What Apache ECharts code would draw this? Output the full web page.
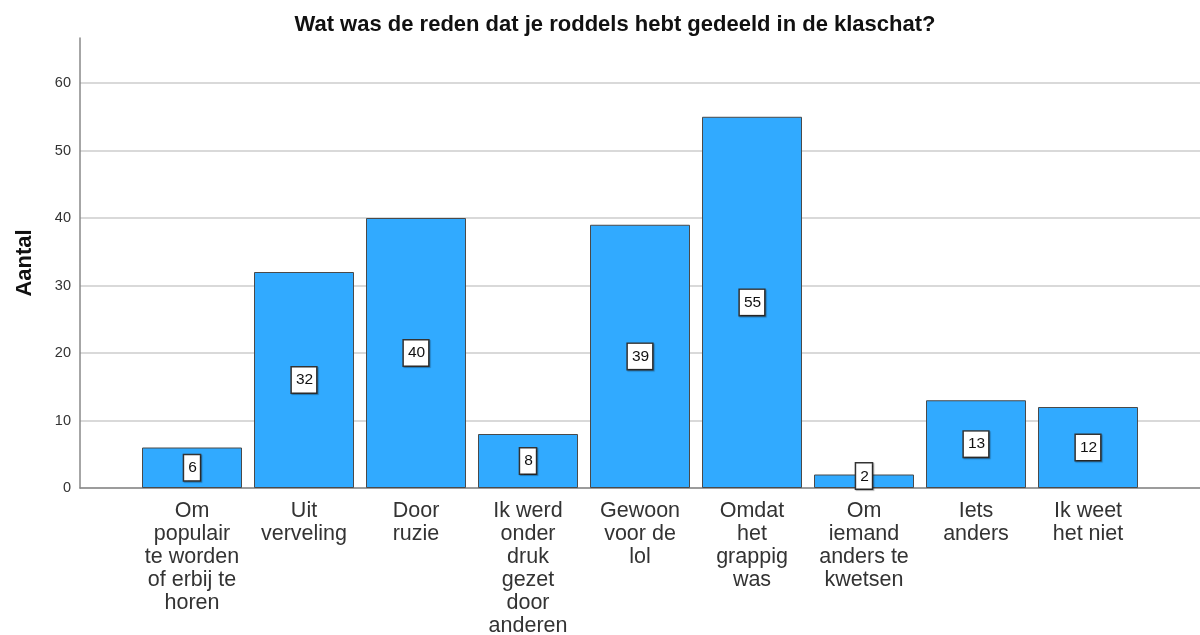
<!DOCTYPE html>
<html>
<head>
<meta charset="utf-8">
<script src="https://cdn.jsdelivr.net/npm/echarts@6/dist/echarts.min.js"></script>
<style>
  html, body { margin: 0; padding: 0; background: #fff; }
  #chart { width: 1200px; height: 635px; }
</style>
</head>
<body>
<div id="chart"></div>
<script>
// categories (line breaks as in the picture)
const categories = [
  'Om\npopulair\nte worden\nof erbij te\nhoren',
  'Uit\nverveling',
  'Door\nruzie',
  'Ik werd\nonder\ndruk\ngezet\ndoor\nanderen',
  'Gewoon\nvoor de\nlol',
  'Omdat\nhet\ngrappig\nwas',
  'Om\niemand\nanders te\nkwetsen',
  'Iets\nanders',
  'Ik weet\nhet niet'
]
const counts = [6, 32, 40, 8, 39, 55, 2, 13, 12]
const yTicks = [0, 10, 20, 30, 40, 50, 60]

const chart = echarts.init(document.getElementById('chart'))

const labelBox = {
  show: true,
  position: 'inside',
  color: '#111',
  fontSize: 15.5,
  fontFamily: 'Liberation Sans, Arial, sans-serif',
  backgroundColor: '#fff',
  borderColor: '#333',
  borderWidth: 1.5,
  padding: [5, 3, 4, 4],
  shadowColor: 'rgba(0,0,0,0.3)',
  shadowOffsetX: 1,
  shadowOffsetY: 1,
  shadowBlur: 1
}

// bars on a value x axis so there is half a band of space at each end
const barData = counts.map(function (v, i) {
  const item = { value: [i, v] }
  if (v < 4) {
    // small bar: the box sits on the top edge
    item.label = { position: 'top', distance: -14 }
  }
  return item
})

chart.setOption({
  animation: false,
  textStyle: { fontFamily: 'Liberation Sans, Arial, sans-serif' },
  title: {
    text: 'Wat was de reden dat je roddels hebt gedeeld in de klaschat?',
    left: 610,
    textAlign: 'center',
    top: 9,
    textStyle: { fontSize: 22, fontWeight: 'bold', color: '#111' }
  },
  grid: { left: 80, right: 0, top: 38, bottom: 147, outerBoundsMode: 'none', containLabel: false },
  xAxis: {
    type: 'value',
    min: -1,
    max: 9,
    interval: 1,
    axisLine: { show: true, onZero: false, lineStyle: { color: '#888', width: 1.5 } },
    axisTick: { show: false },
    splitLine: { show: false },
    axisLabel: {
      margin: 12,
      fontSize: 21.5,
      lineHeight: 23,
      color: '#333',
      showMinLabel: false,
      showMaxLabel: false,
      formatter: function (v) { return categories[v] || '' }
    }
  },
  yAxis: {
    type: 'value',
    min: 0,
    max: 66.67,
    interval: 10,
    name: 'Aantal',
    nameLocation: 'middle',
    nameGap: 44,
    nameRotate: 90,
    nameTextStyle: { fontSize: 22, fontWeight: 'bold', color: '#111' },
    axisLine: { show: true, onZero: false, lineStyle: { color: '#888', width: 1.5 } },
    axisTick: { show: false },
    axisLabel: {
      fontSize: 14.5,
      color: '#333',
      margin: 9,
      formatter: function (v) { return yTicks.indexOf(v) >= 0 ? String(v) : '' }
    },
    splitLine: {
      show: true,
      lineStyle: {
        color: ['#ccc', '#ccc', '#ccc', '#ccc', '#ccc', '#ccc', '#ccc', 'rgba(0,0,0,0)'],
        width: 1.5
      }
    }
  },
  series: [{
    type: 'bar',
    data: barData,
    barWidth: 100,
    itemStyle: { color: '#31aaff', borderColor: '#4a4a4a', borderWidth: 1 },
    label: labelBox
  }]
})
</script>
</body>
</html>
